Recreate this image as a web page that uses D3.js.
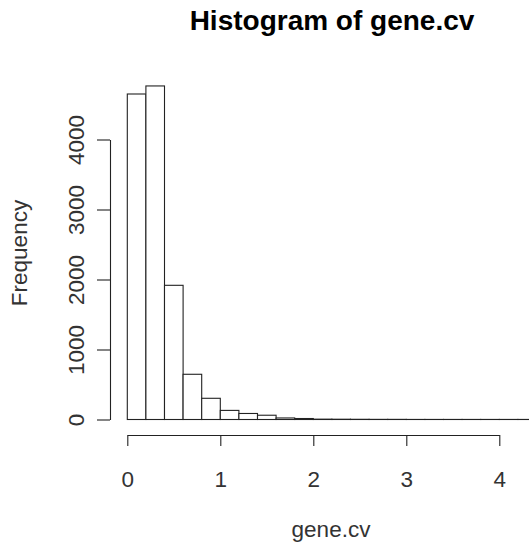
<!DOCTYPE html>
<html>
<head>
<meta charset="utf-8">
<script src="https://cdn.jsdelivr.net/npm/d3@7/dist/d3.min.js"></script>
<style>
  html, body { margin: 0; padding: 0; background: #fff; }
  svg { display: block; font-family: "Liberation Sans", Arial, sans-serif; }
</style>
</head>
<body>
<svg id="chart" width="529" height="543"></svg>
<script>
// Histogram bins of gene.cv (bin width 0.2, starting at 0)
const binStarts = [0.0, 0.2, 0.4, 0.6, 0.8, 1.0, 1.2, 1.4, 1.6, 1.8,
                   2.0, 2.2, 2.4, 2.6, 2.8, 3.0, 3.2, 3.4, 3.6, 3.8, 4.0, 4.2];
const binWidth = 0.2;
const counts = [4650, 4765, 1917, 646, 303, 130, 86, 61, 22, 14,
                5, 4, 3, 2, 2, 1, 1, 1, 1, 1, 1, 1];
const xTicks = [0, 1, 2, 3, 4];
const yTicks = [0, 1000, 2000, 3000, 4000];

const svg = d3.select("#chart");
const ink = "#222";
const labelInk = "#333";

const x = d3.scaleLinear().domain([0, 4]).range([127.3, 499.3]);
const y = d3.scaleLinear().domain([0, 4000]).range([419.5, 139.5]);

// bars
svg.append("g")
  .selectAll("rect")
  .data(binStarts.map((s, i) => ({ x0: s, x1: s + binWidth, n: counts[i] })))
  .join("rect")
  .attr("x", d => x(d.x0))
  .attr("y", d => y(d.n))
  .attr("width", d => x(d.x1) - x(d.x0))
  .attr("height", d => y(0) - y(d.n))
  .attr("fill", "#fff")
  .attr("stroke", ink)
  .attr("stroke-width", 1.1);

// x axis
const gx = svg.append("g")
  .attr("transform", "translate(0,435)")
  .call(d3.axisBottom(x).tickValues(xTicks).tickFormat(d3.format("d"))
    .tickSize(11).tickSizeOuter(0));
gx.selectAll(".tick text")
  .attr("y", 51.5).attr("dy", null)
  .attr("font-size", 22.5).attr("fill", labelInk);

// y axis
const gy = svg.append("g")
  .attr("transform", "translate(110,0)")
  .call(d3.axisLeft(y).tickValues(yTicks).tickFormat(d3.format("d"))
    .tickSize(13).tickSizeOuter(0));
gy.selectAll(".tick text")
  .attr("x", null).attr("dy", null)
  .attr("text-anchor", "middle")
  .attr("transform", "translate(-26,0) rotate(-90)")
  .attr("font-size", 22.5).attr("fill", labelInk);

[gx, gy].forEach(g => {
  g.select(".domain").attr("stroke", ink).attr("stroke-width", 1.1);
  g.selectAll(".tick line").attr("stroke", ink).attr("stroke-width", 1.1);
  g.attr("font-family", null);
});

// titles
svg.append("text")
  .attr("x", 332).attr("y", 29.5)
  .attr("text-anchor", "middle")
  .attr("font-size", 28).attr("font-weight", "bold")
  .attr("fill", "#000")
  .text("Histogram of gene.cv");

svg.append("text")
  .attr("x", 331).attr("y", 537)
  .attr("text-anchor", "middle")
  .attr("font-size", 22.5).attr("fill", labelInk)
  .text("gene.cv");

svg.append("text")
  .attr("transform", "translate(27,253) rotate(-90)")
  .attr("text-anchor", "middle")
  .attr("font-size", 22.5).attr("fill", labelInk)
  .text("Frequency");
</script>
</body>
</html>
